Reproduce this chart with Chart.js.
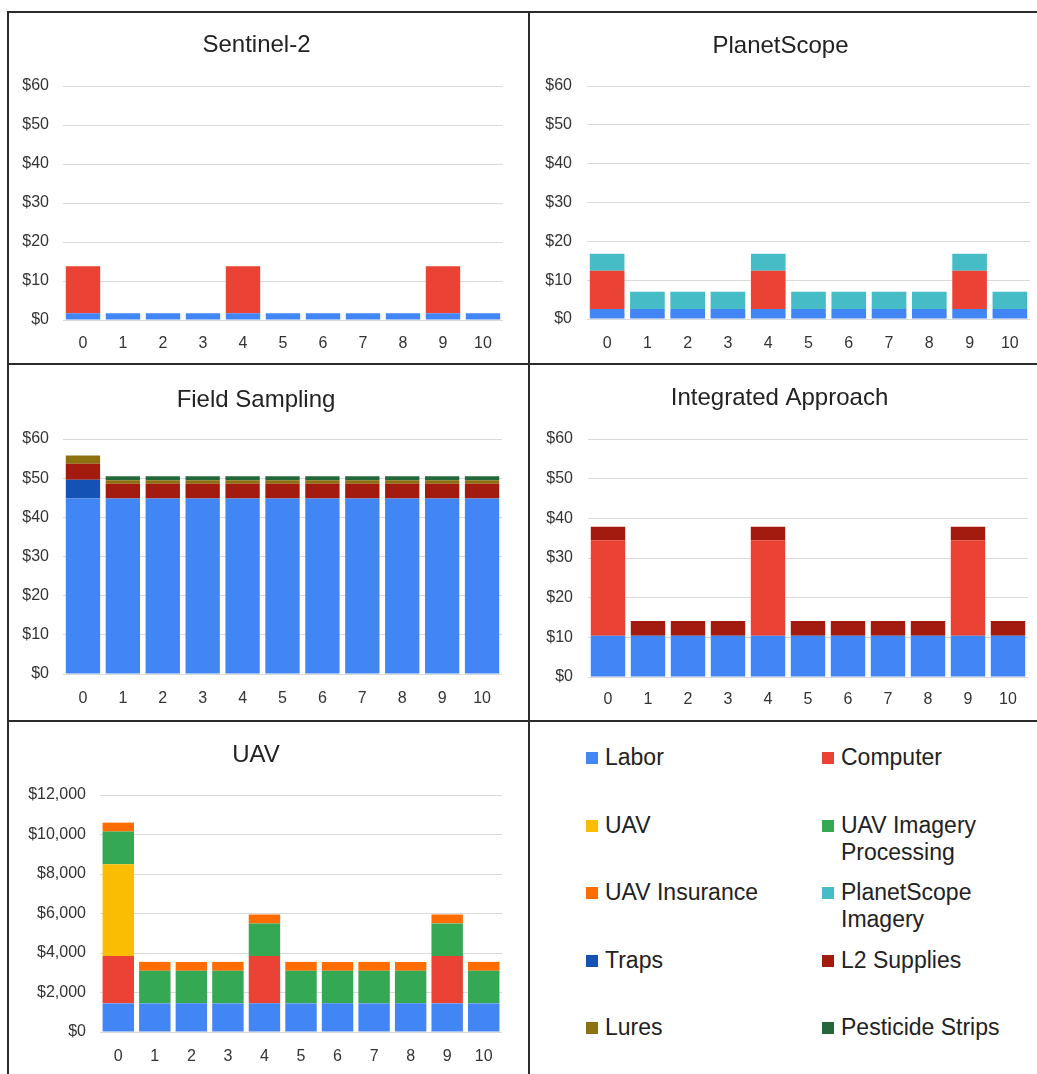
<!DOCTYPE html>
<html>
<head>
<meta charset="utf-8">
<script src="https://cdn.jsdelivr.net/npm/chart.js@4.4.0/dist/chart.umd.min.js"></script>
<style>
  body { margin: 0; background: #fff; width: 1037px; height: 1074px; overflow: hidden; position: relative;
         font-family: "Liberation Sans", Arial, sans-serif; }
  .line { position: absolute; background: #2b2b2b; }
  canvas { position: absolute; }
  #legend { position: absolute; left: 586px; top: 744px; display: grid;
            grid-template-columns: 236px 200px; grid-auto-rows: 67.5px; }
  .item { display: flex; align-items: flex-start; font-size: 23px; line-height: 27px; color: #222; }
  .sw { width: 12px; height: 12px; margin: 8px 7px 0 0; flex: none; }
  .txt { width: 180px; }
</style>
</head>
<body>
<div class="line" style="left:7px;top:11px;width:1030px;height:2px"></div>
<div class="line" style="left:7px;top:363px;width:1030px;height:2px"></div>
<div class="line" style="left:7px;top:720px;width:1030px;height:2px"></div>
<div class="line" style="left:7px;top:11px;width:2px;height:1063px"></div>
<div class="line" style="left:528px;top:11px;width:2px;height:1063px"></div>

<canvas id="c1" width="518" height="349" style="left:10px;top:14px"></canvas>
<canvas id="c2" width="506" height="349" style="left:531px;top:14px"></canvas>
<canvas id="c3" width="518" height="354" style="left:10px;top:366px"></canvas>
<canvas id="c4" width="506" height="354" style="left:531px;top:366px"></canvas>
<canvas id="c5" width="518" height="351" style="left:10px;top:723px"></canvas>
<div id="legend"></div>

<script>
var years = ['0', '1', '2', '3', '4', '5', '6', '7', '8', '9', '10'];

var seriesNames = ['Labor', 'Computer', 'UAV', 'UAV Imagery Processing', 'UAV Insurance',
                   'PlanetScope Imagery', 'Traps', 'L2 Supplies', 'Lures', 'Pesticide Strips'];
var seriesColors = ['#4285F4', '#EA4335', '#FBBC04', '#34A853', '#FF6D01',
                    '#46BDC6', '#1552B5', '#A31A0E', '#8D7110', '#23683A'];

// Sentinel-2
var s2Labor    = [1.7, 1.7, 1.7, 1.7, 1.7, 1.7, 1.7, 1.7, 1.7, 1.7, 1.7];
var s2Computer = [12.1, 0, 0, 0, 12.1, 0, 0, 0, 0, 12.1, 0];

// PlanetScope
var psLabor    = [2.6, 2.6, 2.6, 2.6, 2.6, 2.6, 2.6, 2.6, 2.6, 2.6, 2.6];
var psComputer = [9.8, 0, 0, 0, 9.8, 0, 0, 0, 0, 9.8, 0];
var psImagery  = [4.4, 4.4, 4.4, 4.4, 4.4, 4.4, 4.4, 4.4, 4.4, 4.4, 4.4];

// Field Sampling
var fsLabor     = [44.8, 44.8, 44.8, 44.8, 44.8, 44.8, 44.8, 44.8, 44.8, 44.8, 44.8];
var fsTraps     = [4.8, 0, 0, 0, 0, 0, 0, 0, 0, 0, 0];
var fsL2        = [4.1, 3.8, 3.8, 3.8, 3.8, 3.8, 3.8, 3.8, 3.8, 3.8, 3.8];
var fsLures     = [2.1, 0.9, 0.9, 0.9, 0.9, 0.9, 0.9, 0.9, 0.9, 0.9, 0.9];
var fsPesticide = [0, 1.0, 1.0, 1.0, 1.0, 1.0, 1.0, 1.0, 1.0, 1.0, 1.0];

// Integrated Approach
var iaLabor    = [10.4, 10.4, 10.4, 10.4, 10.4, 10.4, 10.4, 10.4, 10.4, 10.4, 10.4];
var iaComputer = [24.1, 0, 0, 0, 24.1, 0, 0, 0, 0, 24.1, 0];
var iaL2       = [3.4, 3.7, 3.7, 3.7, 3.4, 3.7, 3.7, 3.7, 3.7, 3.4, 3.7];

// UAV
var uavLabor      = [1450, 1450, 1450, 1450, 1450, 1450, 1450, 1450, 1450, 1450, 1450];
var uavComputer   = [2400, 0, 0, 0, 2400, 0, 0, 0, 0, 2400, 0];
var uavDrone      = [4650, 0, 0, 0, 0, 0, 0, 0, 0, 0, 0];
var uavProcessing = [1650, 1650, 1650, 1650, 1650, 1650, 1650, 1650, 1650, 1650, 1650];
var uavInsurance  = [450, 450, 450, 450, 450, 450, 450, 450, 450, 450, 450];

var yTicks60 = [0, 60, 10];
var yTicksUav = [0, 12000, 2000];

Chart.defaults.font.family = '"Liberation Sans", Arial, sans-serif';
Chart.defaults.color = '#444';

function colorOf(name) {
    return seriesColors[seriesNames.indexOf(name)];
}

function makeChart(id, title, series, ticks, geo) {
    var canvas = document.getElementById(id);
    var datasets = series.map(function (s) {
        return {
            label: s[0],
            data: s[1],
            backgroundColor: colorOf(s[0]),
            borderWidth: 0,
            barPercentage: 0.86,
            categoryPercentage: 1.0
        };
    });
    return new Chart(canvas, {
        type: 'bar',
        data: { labels: years, datasets: datasets },
        options: {
            responsive: false,
            animation: false,
            devicePixelRatio: 1,
            layout: { padding: { left: 0, right: geo.padRight, top: 0, bottom: 0 } },
            plugins: {
                legend: { display: false },
                tooltip: { enabled: false },
                title: {
                    display: true,
                    text: title,
                    color: '#222',
                    font: { size: 24, weight: 'normal' },
                    padding: { top: geo.titleY - 14.4, bottom: geo.top - geo.titleY - 14.4 }
                }
            },
            scales: {
                x: {
                    stacked: true,
                    grid: { display: false },
                    border: { display: false },
                    ticks: { font: { size: 16 }, color: '#333', padding: geo.xGap - 15.6, maxRotation: 0 },
                    afterFit: function (axis) { axis.height = canvas.height - geo.bottom; }
                },
                y: {
                    stacked: true,
                    min: ticks[0],
                    max: ticks[1],
                    grid: { color: '#dadada', drawTicks: false },
                    border: { display: false },
                    ticks: {
                        stepSize: ticks[2],
                        font: { size: 16 },
                        color: '#333',
                        padding: geo.yPad,
                        callback: function (v) { return '$' + v.toLocaleString('en-US'); }
                    },
                    afterFit: function (axis) { axis.width = geo.left; }
                }
            }
        }
    });
}

makeChart('c1', 'Sentinel-2',
    [['Labor', s2Labor], ['Computer', s2Computer]],
    yTicks60, { left: 53, padRight: 25, top: 72, bottom: 306, titleY: 31, xGap: 22, yPad: 14 });

makeChart('c2', 'PlanetScope',
    [['Labor', psLabor], ['Computer', psComputer], ['PlanetScope Imagery', psImagery]],
    yTicks60, { left: 56, padRight: 7, top: 72, bottom: 305, titleY: 32, xGap: 23, yPad: 15 });

makeChart('c3', 'Field Sampling',
    [['Labor', fsLabor], ['Traps', fsTraps], ['L2 Supplies', fsL2], ['Lures', fsLures], ['Pesticide Strips', fsPesticide]],
    yTicks60, { left: 53, padRight: 26, top: 73, bottom: 308, titleY: 34, xGap: 23, yPad: 14 });

makeChart('c4', 'Integrated Approach',
    [['Labor', iaLabor], ['Computer', iaComputer], ['L2 Supplies', iaL2]],
    yTicks60, { left: 57, padRight: 9, top: 73, bottom: 311, titleY: 32, xGap: 21, yPad: 15 });

makeChart('c5', 'UAV',
    [['Labor', uavLabor], ['Computer', uavComputer], ['UAV', uavDrone], ['UAV Imagery Processing', uavProcessing], ['UAV Insurance', uavInsurance]],
    yTicksUav, { left: 90, padRight: 26, top: 72, bottom: 309, titleY: 32, xGap: 23, yPad: 14 });

// shared legend
var legend = document.getElementById('legend');
seriesNames.forEach(function (name, i) {
    var item = document.createElement('div');
    item.className = 'item';
    var sw = document.createElement('span');
    sw.className = 'sw';
    sw.style.background = seriesColors[i];
    var txt = document.createElement('span');
    txt.className = 'txt';
    txt.textContent = name;
    item.appendChild(sw);
    item.appendChild(txt);
    legend.appendChild(item);
});
</script>
</body>
</html>
